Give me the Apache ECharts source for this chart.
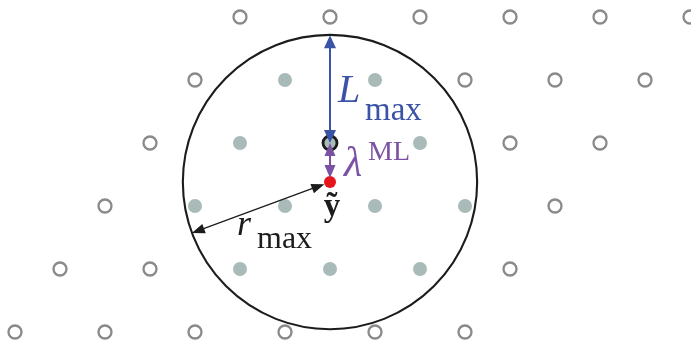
<!DOCTYPE html>
<html>
<head>
<meta charset="utf-8">
<script src="https://cdn.jsdelivr.net/npm/echarts@6/dist/echarts.min.js"></script>
<style>
  html, body { margin: 0; padding: 0; background: #ffffff; }
  #chart { width: 691px; height: 343px; }
</style>
</head>
<body>
<div id="chart"></div>
<script>
// Lattice rows: vertical index of each row and the column indices (half-spacing units) in it
const rowY = [2, 1, 0, -1, -2, -3];
const rowCols = [
  [-2, 0, 2, 4, 6, 8],
  [-3, -1, 1, 3, 5, 7],
  [-4, -2, 0, 2, 4, 6],
  [-5, -3, -1, 1, 3, 5],
  [-6, -4, -2, 0, 2, 4],
  [-7, -5, -3, -1, 1, 3]
];
// Lattice points that fall inside the search sphere
const insidePoints = [
  [-1, 1], [1, 1],
  [-2, 0], [0, 0], [2, 0],
  [-3, -1], [-1, -1], [1, -1], [3, -1],
  [-2, -2], [0, -2], [2, -2]
];
// ML estimate (lattice point) and the received vector y~
const mlPoint = [0, 0];
const receivedPoint = [0, -0.62];
// Sphere radius along x, top of the sphere, and where the r_max arrow meets the sphere
const sphereRadiusX = 3.27;
const sphereTop = [0, 1.71];
const rMaxEnd = [-3.07, -1.43];

const insideKey = new Set(insidePoints.map(p => p[0] + ',' + p[1]));
const openPts = [];
const filledPts = [];
rowY.forEach((y, i) => {
  rowCols[i].forEach(x => {
    if (insideKey.has(x + ',' + y)) {
      if (!(x === mlPoint[0] && y === mlPoint[1])) filledPts.push([x, y]);
    } else {
      openPts.push([x, y]);
    }
  });
});

const C = {
  open: '#8a8a8a',
  filled: '#a8bbb9',
  ink: '#1c1c1c',
  blue: '#3a53a6',
  purple: '#7b52a3',
  red: '#e8141c'
};
const SERIF = '"Liberation Serif", "DejaVu Serif", serif';

// double-headed arrow between two data points; gaps pull the tips back (pixels)
function arrowRenderer(color, lineWidth, headLen, headW, gapStart, gapEnd) {
  return function (params, api) {
    let a = api.coord([api.value(0), api.value(1)]);
    let b = api.coord([api.value(2), api.value(3)]);
    const dx = b[0] - a[0], dy = b[1] - a[1];
    const len = Math.hypot(dx, dy);
    const ux = dx / len, uy = dy / len, nx = -uy, ny = ux;
    a = [a[0] + ux * gapStart, a[1] + uy * gapStart];
    b = [b[0] - ux * gapEnd, b[1] - uy * gapEnd];
    const head = (tip, s) => {
      const bx = tip[0] + s * ux * headLen, by = tip[1] + s * uy * headLen;
      return [[tip[0], tip[1]], [bx + nx * headW / 2, by + ny * headW / 2], [bx - nx * headW / 2, by - ny * headW / 2]];
    };
    return {
      type: 'group',
      children: [
        {
          type: 'line',
          shape: {
            x1: a[0] + ux * headLen * 0.8, y1: a[1] + uy * headLen * 0.8,
            x2: b[0] - ux * headLen * 0.8, y2: b[1] - uy * headLen * 0.8
          },
          style: { stroke: color, lineWidth: lineWidth }
        },
        { type: 'polygon', shape: { points: head(a, 1) }, style: { fill: color } },
        { type: 'polygon', shape: { points: head(b, -1) }, style: { fill: color } }
      ]
    };
  };
}

// text pieces placed relative to a data anchor (offsets in pixels)
function textRenderer(pieces) {
  return function (params, api) {
    const p = api.coord([api.value(0), api.value(1)]);
    return {
      type: 'group',
      children: pieces.map(t => ({
        type: 'text',
        style: {
          x: p[0] + t.dx,
          y: p[1] + t.dy,
          text: t.text,
          fill: t.color,
          font: t.font,
          align: t.align || 'left',
          verticalAlign: 'middle'
        }
      }))
    };
  };
}

const chart = echarts.init(document.getElementById('chart'), null, { renderer: 'canvas' });

chart.setOption({
  animation: false,
  backgroundColor: '#ffffff',
  grid: { left: 0, right: 0, top: 0, bottom: 0 },
  xAxis: { type: 'value', min: -7.333, max: 8.022, show: false },
  yAxis: { type: 'value', min: -3.175, max: 2.27, show: false },
  series: [
    {
      name: 'outside',
      type: 'scatter',
      data: openPts,
      symbol: 'circle',
      symbolSize: 13,
      itemStyle: { color: '#ffffff', borderColor: C.open, borderWidth: 2.3, opacity: 1 },
      z: 2
    },
    {
      name: 'inside',
      type: 'scatter',
      data: filledPts,
      symbol: 'circle',
      symbolSize: 14,
      itemStyle: { color: C.filled, opacity: 1 },
      z: 2
    },
    {
      name: 'ML',
      type: 'scatter',
      data: [mlPoint],
      symbol: 'circle',
      symbolSize: 14,
      itemStyle: { color: C.filled, borderColor: C.ink, borderWidth: 2.8, opacity: 1 },
      z: 3
    },
    {
      name: 'sphere',
      type: 'custom',
      data: [[receivedPoint[0], receivedPoint[1], sphereRadiusX]],
      renderItem: function (params, api) {
        const c = api.coord([api.value(0), api.value(1)]);
        const r = api.size([api.value(2), 0])[0];
        return {
          type: 'circle',
          shape: { cx: c[0], cy: c[1], r: r },
          style: { fill: 'none', stroke: C.ink, lineWidth: 2.1 }
        };
      },
      z: 3
    },
    {
      name: 'received',
      type: 'scatter',
      data: [receivedPoint],
      symbol: 'circle',
      symbolSize: 12,
      itemStyle: { color: C.red, opacity: 1 },
      z: 4
    },
    {
      name: 'Lmax',
      type: 'custom',
      data: [[mlPoint[0], mlPoint[1], sphereTop[0], sphereTop[1]]],
      renderItem: arrowRenderer(C.blue, 2, 13, 12, 0, 0),
      z: 5
    },
    {
      name: 'lambdaML',
      type: 'custom',
      data: [[mlPoint[0], mlPoint[1], receivedPoint[0], receivedPoint[1]]],
      renderItem: arrowRenderer(C.purple, 2, 13, 11, 0, 4),
      z: 5
    },
    {
      name: 'rmax',
      type: 'custom',
      data: [[receivedPoint[0], receivedPoint[1], rMaxEnd[0], rMaxEnd[1]]],
      renderItem: arrowRenderer(C.ink, 1.3, 13, 10, 6, 0),
      z: 5
    },
    {
      name: 'labelLmax',
      type: 'custom',
      data: [mlPoint],
      renderItem: textRenderer([
        { text: 'L', dx: 8, dy: -52, color: C.blue, font: 'italic 40px ' + SERIF },
        { text: 'max', dx: 35, dy: -32, color: C.blue, font: '33px ' + SERIF }
      ]),
      z: 6
    },
    {
      name: 'labelLambda',
      type: 'custom',
      data: [receivedPoint],
      renderItem: textRenderer([
        { text: 'λ', dx: 14, dy: -17, color: C.purple, font: 'italic 42px ' + SERIF },
        { text: 'ML', dx: 38, dy: -29, color: C.purple, font: '28px ' + SERIF }
      ]),
      z: 6
    },
    {
      name: 'labelY',
      type: 'custom',
      data: [receivedPoint],
      renderItem: textRenderer([
        { text: 'ỹ', dx: 2, dy: 25, color: C.ink, font: 'bold 33px ' + SERIF, align: 'center' }
      ]),
      z: 6
    },
    {
      name: 'labelRmax',
      type: 'custom',
      data: [receivedPoint],
      renderItem: textRenderer([
        { text: 'r', dx: -93, dy: 43, color: C.ink, font: 'italic 36px ' + SERIF },
        { text: 'max', dx: -73, dy: 58, color: C.ink, font: '32px ' + SERIF }
      ]),
      z: 6
    }
  ]
});
</script>
</body>
</html>
